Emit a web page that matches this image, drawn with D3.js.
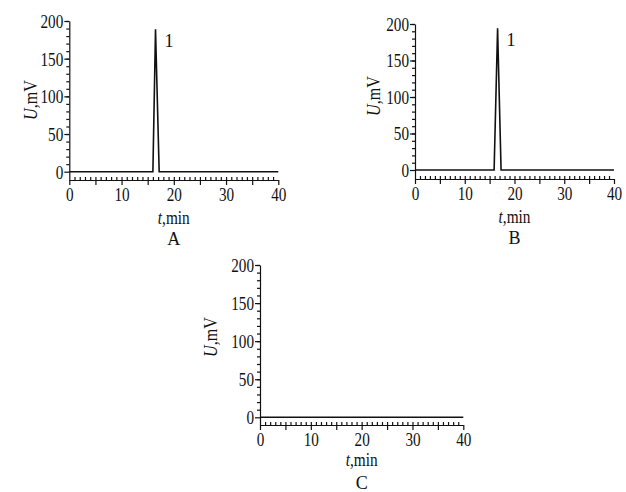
<!DOCTYPE html>
<html>
<head>
<meta charset="utf-8">
<script src="https://cdn.jsdelivr.net/npm/d3@7"></script>
<style>
  body { margin: 0; background: #fff; }
  svg text { font-family: "Liberation Serif", "DejaVu Serif", serif; fill: #111; }
</style>
</head>
<body>
<div id="chart"></div>
<script>
// chromatogram traces, time in min, signal in mV
const traceA = [[0, 0], [16.0, 0], [16.5, 189], [17.2, 0], [40, 0]];
const traceB = [[0, 0], [15.9, 0], [16.6, 194], [17.3, 0], [40, 0]];
const traceC = [[0, 0], [40, 0]];
const panelNames = ['A', 'B', 'C'];
const peakLabels = [{ t: 16.5, v: 189, text: '1' }, { t: 16.6, v: 194, text: '1' }, null];
const xMajor = [0, 10, 20, 30, 40];
const yMajor = [0, 50, 100, 150, 200];

const W = 626, H = 492;
const svg = d3.select('#chart').append('svg').attr('width', W).attr('height', H);

// panel frames: pixel position of x = 0..40 and of y = 0 / 200, and of the x axis
const frames = [
  { x0: 69.3, x1: 278.3, yZero: 171.7, yTop: 21, axisY: 180, ylabX: 31, ylabY: 100, titleDy: 44, nameDy: 65 },
  { x0: 415, x1: 614, yZero: 170, yTop: 24, axisY: 179, ylabX: 374, ylabY: 96, titleDy: 44, nameDy: 65 },
  { x0: 260, x1: 463.3, yZero: 417.3, yTop: 265, axisY: 425, ylabX: 211, ylabY: 337, titleDy: 41, nameDy: 64 }
];
const traces = [traceA, traceB, traceC];

// squeeze text horizontally (narrow serif look)
function squeeze(sel, k) {
  sel.each(function () {
    const t = d3.select(this);
    const x = +t.attr('x') || 0;
    t.attr('x', 0).attr('transform', `translate(${x},0) scale(${k},1)`);
  });
}

frames.forEach((f, i) => {
  const yScale = d3.scaleLinear().domain([0, 200]).range([f.yZero, f.yTop]);
  const yMin = yScale.invert(f.axisY);
  const y = d3.scaleLinear().domain([yMin, 200]).range([f.axisY, f.yTop]);
  const x = d3.scaleLinear().domain([0, 40]).range([f.x0, f.x1]);
  const g = svg.append('g');

  // y axis: minor every 10, major every 50
  g.append('g').attr('transform', `translate(${f.x0},0)`)
    .call(d3.axisLeft(y).tickValues(d3.range(10, 201, 10)).tickSize(3).tickSizeOuter(0).tickFormat(''))
    .call(a => a.select('.domain').remove());
  const ya = g.append('g').attr('transform', `translate(${f.x0},0)`)
    .call(d3.axisLeft(y).tickValues(yMajor).tickSize(5).tickPadding(1).tickSizeOuter(0));
  ya.selectAll('text').attr('font-size', 19).attr('dy', '0.34em');
  squeeze(ya.selectAll('text'), 0.8);

  // x axis: minor every 1 up, every 5 down, labels every 10
  g.append('g').attr('transform', `translate(0,${f.axisY})`)
    .call(d3.axisTop(x).tickValues(d3.range(1, 40, 1)).tickSize(3).tickSizeOuter(0).tickFormat(''))
    .call(a => a.select('.domain').remove());
  g.append('g').attr('transform', `translate(0,${f.axisY})`)
    .call(d3.axisBottom(x).tickValues(d3.range(5, 40, 10)).tickSize(5).tickSizeOuter(0).tickFormat(''))
    .call(a => a.select('.domain').remove());
  const xa = g.append('g').attr('transform', `translate(0,${f.axisY})`)
    .call(d3.axisBottom(x).tickValues(xMajor).tickSize(5).tickPadding(2).tickSizeOuter(0));
  xa.selectAll('text').attr('font-size', 19).attr('dy', '0.72em')
    .attr('transform', 'scale(0.8,1)');

  g.selectAll('.domain, .tick line').attr('stroke', '#111').attr('stroke-width', 1.2);

  // trace
  const line = d3.line().x(d => x(d[0])).y(d => yScale(d[1]));
  g.append('path').datum(traces[i])
    .attr('fill', 'none').attr('stroke', '#111').attr('stroke-width', 1.6)
    .attr('stroke-linejoin', 'miter')
    .attr('d', line);

  // peak number
  const pk = peakLabels[i];
  if (pk) {
    g.append('text')
      .attr('x', x(pk.t) + 9).attr('y', yScale(pk.v) + 18)
      .attr('font-size', 18).text(pk.text);
  }

  // axis titles
  const cx = (f.x0 + f.x1) / 2;
  const xt = g.append('text')
    .attr('transform', `translate(${cx},${f.axisY + f.titleDy}) scale(0.85,1)`)
    .attr('text-anchor', 'middle').attr('font-size', 18);
  xt.append('tspan').attr('font-style', 'italic').text('t');
  xt.append('tspan').text(',min');

  g.append('text')
    .attr('transform', `translate(${cx},${f.axisY + f.nameDy})`)
    .attr('text-anchor', 'middle').attr('font-size', 18).text(panelNames[i]);

  const yt = g.append('text')
    .attr('transform', `translate(${f.ylabX + 6},${f.ylabY}) rotate(-90) scale(0.85,1)`)
    .attr('text-anchor', 'middle').attr('font-size', 19);
  yt.append('tspan').attr('font-style', 'italic').text('U');
  yt.append('tspan').text(',mV');
});
</script>
</body>
</html>
